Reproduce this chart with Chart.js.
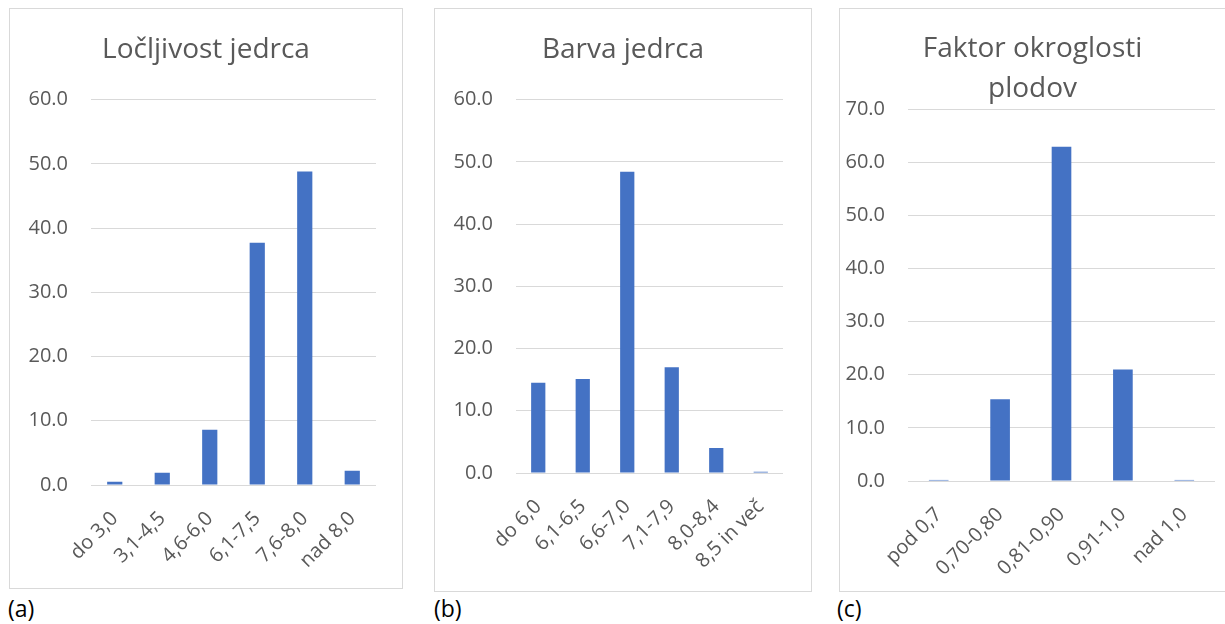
<!DOCTYPE html>
<html lang="sl">
<head>
  <meta charset="UTF-8" />
  <title>Jedrca in plodovi</title>
  <script src="https://cdn.jsdelivr.net/npm/chart.js"></script>
  <style>
    body { margin: 0; background: #fff; width: 1225px; height: 624px; overflow: hidden; position: relative; font-family: "Open Sans", sans-serif; }
    .panel { position: absolute; border: 1px solid #d9d9d9; box-sizing: border-box; background: #fff; }
    .panel canvas { display: block; }
    .cap { position: absolute; top: 592px; font-size: 23px; color: #000; }
  </style>
</head>
<body>
  <!-- (a) Ločljivost jedrca -->
  <div class="panel" style="left:9px; top:8px; width:394px; height:581px;">
    <canvas id="chartA" width="392" height="579"></canvas>
  </div>
  <!-- (b) Barva jedrca -->
  <div class="panel" style="left:434px; top:8px; width:378px; height:584px;">
    <canvas id="chartB" width="376" height="582"></canvas>
  </div>
  <!-- (c) Faktor okroglosti plodov -->
  <div class="panel" style="left:839px; top:8px; width:387px; height:584px;">
    <canvas id="chartC" width="385" height="582"></canvas>
  </div>
  <div class="cap" style="left:8px;">(a)</div>
  <div class="cap" style="left:434px;">(b)</div>
  <div class="cap" style="left:837px;">(c)</div>

  <script>
    // Data (percent)
    const catsA = ['do 3,0', '3,1-4,5', '4,6-6,0', '6,1-7,5', '7,6-8,0', 'nad 8,0'];
    const valsA = [0.5, 1.9, 8.6, 37.7, 48.8, 2.2];

    const catsB = ['do 6,0', '6,1-6,5', '6,6-7,0', '7,1-7,9', '8,0-8,4', '8,5 in več'];
    const valsB = [14.5, 15.1, 48.4, 17.0, 4.0, 0.2];

    const catsC = ['pod 0,7', '0,70-0,80', '0,81-0,90', '0,91-1,0', 'nad 1,0'];
    const valsC = [0.2, 15.4, 62.9, 21.0, 0.2];

    const textColor = '#595959';
    const gridColor = '#d9d9d9';
    const barColor = '#4472c4';

    function makeChart(id, title, labels, values, o) {
      return new Chart(document.getElementById(id), {
        type: 'bar',
        data: {
          labels: labels,
          datasets: [{ data: values, backgroundColor: barColor, barPercentage: 0.32, categoryPercentage: 1 }]
        },
        options: {
          responsive: false,
          animation: false,
          layout: { padding: 0 },
          plugins: {
            legend: { display: false },
            tooltip: { enabled: false },
            title: {
              display: true,
              text: title,
              color: textColor,
              font: { family: 'Open Sans', size: 28, weight: 'normal', lineHeight: o.titleLH },
              padding: { top: o.titleTop, bottom: o.titleBottom }
            }
          },
          scales: {
            x: {
              grid: { display: false },
              border: { display: false },
              ticks: {
                color: textColor,
                font: { family: 'Open Sans', size: 20 },
                minRotation: 45, maxRotation: 45, autoSkip: false, padding: 14
              },
              afterFit: s => { s.height = o.xHeight; }
            },
            y: {
              min: 0, max: o.max,
              grid: { color: gridColor, drawTicks: false },
              border: { display: false },
              ticks: {
                stepSize: 10, color: textColor, padding: 23,
                font: { family: 'Open Sans', size: 20 },
                callback: v => v.toFixed(1)
              },
              afterFit: s => { s.width = o.yWidth; }
            },
            // empty right-hand axis, only reserves the gap after the plot
            gap: {
              position: 'right', min: 0, max: o.max,
              grid: { display: false },
              border: { display: false },
              ticks: { display: false },
              afterFit: s => { s.width = o.right; }
            }
          }
        }
      });
    }

    makeChart('chartA', 'Ločljivost jedrca', catsA, valsA,
      { max: 60, right: 26, yWidth: 81, xHeight: 103, titleLH: 1.2, titleTop: 24, titleBottom: 33 });
    makeChart('chartB', 'Barva jedrca', catsB, valsB,
      { max: 60, right: 28, yWidth: 81, xHeight: 118, titleLH: 1.2, titleTop: 24, titleBottom: 33 });
    makeChart('chartC', ['Faktor okroglosti', 'plodov'], catsC, valsC,
      { max: 70, right: 10, yWidth: 68, xHeight: 110, titleLH: 40 / 28, titleTop: 20, titleBottom: 0 });
  </script>
</body>
</html>
